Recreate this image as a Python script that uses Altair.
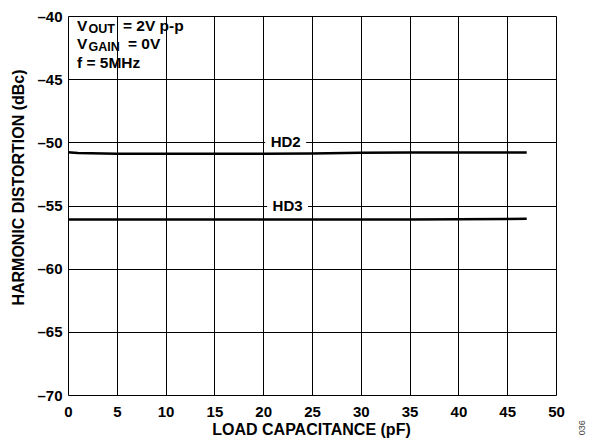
import altair as alt
import pandas as pd

# Load capacitance (pF)
cap = [0, 1, 5, 10, 15, 20, 25, 30, 35, 40, 45, 47]
# HD2 / HD3 (dBc)
hd2 = [-50.78, -50.84, -50.9, -50.9, -50.9, -50.9, -50.88, -50.82, -50.8, -50.8, -50.8, -50.8]
hd3 = [-56.1, -56.1, -56.1, -56.1, -56.1, -56.1, -56.1, -56.1, -56.1, -56.09, -56.06, -56.05]

x_ticks = list(range(0, 55, 5))
y_ticks = list(range(-70, -35, 5))

series_labels = ["HD2", "HD3"]
label_x = [22.3, 22.5]
label_y = [-50.0, -55.0]
label_x0 = [20.2, 20.4]
label_x1 = [24.4, 24.6]

FONT = "Liberation Sans"

rows = []
for c, a, b in zip(cap, hd2, hd3):
    rows.append({"cap": c, "val": a, "series": "HD2"})
    rows.append({"cap": c, "val": b, "series": "HD3"})
df = pd.DataFrame(rows)

lab = pd.DataFrame({
    "text": series_labels, "x": label_x, "y": label_y,
    "x0": label_x0, "x1": label_x1,
    "y0": [v - 0.55 for v in label_y], "y1": [v + 0.55 for v in label_y],
})

xs = alt.Scale(domain=[0, 50], nice=False)
ys = alt.Scale(domain=[-70, -40], nice=False)

minus_expr = "datum.value < 0 ? '\u2013' + abs(datum.value) : datum.label"

base = alt.Chart(df).encode(
    x=alt.X("cap:Q", scale=xs,
            axis=alt.Axis(values=x_ticks, title="LOAD CAPACITANCE (pF)", grid=True,
                          gridColor="black", gridWidth=1, gridOpacity=1,
                          ticks=False, domain=False, labelPadding=21,
                          labelBaseline="alphabetic", labelFont=FONT, labelFontSize=15,
                          labelFontWeight="bold", labelColor="black",
                          titleFont=FONT, titleFontSize=16, titleFontWeight="bold",
                          titleColor="black", titleX=243, titleY=39,
                          titleBaseline="alphabetic", labelFlush=False)),
    y=alt.Y("val:Q", scale=ys,
            axis=alt.Axis(values=y_ticks, title="HARMONIC DISTORTION (dBc)", grid=True,
                          gridColor="black", gridWidth=1, gridOpacity=1,
                          ticks=False, domain=False, labelPadding=6,
                          labelExpr=minus_expr, labelFont=FONT, labelFontSize=15,
                          labelFontWeight="bold", labelColor="black",
                          titleFont=FONT, titleFontSize=16, titleFontWeight="bold",
                          titleColor="black", titleAngle=270, titleX=-50, titleY=171,
                          titleBaseline="middle", titleAlign="center", labelFlush=False)),
)

lines = base.mark_line(color="black", strokeWidth=2.5).encode(detail="series:N")

bg = alt.Chart(lab).mark_rect(color="white").encode(
    x=alt.X("x0:Q", scale=xs), x2="x1:Q",
    y=alt.Y("y0:Q", scale=ys), y2="y1:Q")

labels = alt.Chart(lab).mark_text(font=FONT, fontSize=15, fontWeight="bold",
                                  color="black", baseline="middle").encode(
    x=alt.X("x:Q", scale=xs), y=alt.Y("y:Q", scale=ys), text="text:N")

# Annotation block (top-left)
ann_parts = ["V", "OUT", "= 2V p-p", "V", "GAIN", "= 0V", "f = 5MHz", "036"]
ann_x = [0.92, 0.92, 0.92, 0.92, 0.92, 0.92, 0.92, 52.7]
ann_y = [-41.15, -41.15, -41.15, -42.6, -42.6, -42.6, -44.15, -72.6]
ann_dx = [0, 11.5, 46, 0, 11.5, 51, 0, 0]
ann_dy = [0, 2.5, 0, 0, 2.5, 0, 0, 0]
ann_size = [15.5, 12.5, 15.5, 15.5, 12.5, 15.5, 15.5, 9]

ann = pd.DataFrame({"t": ann_parts, "x": ann_x, "y": ann_y, "dx": ann_dx,
                    "dy": ann_dy, "s": ann_size})

ann_layers = []
for i in range(len(ann)):
    r = ann.iloc[[i]]
    is_code = r["t"].iloc[0] == "036"
    ann_layers.append(
        alt.Chart(r).mark_text(
            font=FONT, fontSize=float(r["s"].iloc[0]),
            fontWeight="normal" if is_code else "bold",
            color="#444444" if is_code else "black",
            align="center" if is_code else "left",
            baseline="middle" if is_code else "alphabetic",
            angle=270 if is_code else 0,
            dx=float(r["dx"].iloc[0]), dy=float(r["dy"].iloc[0]),
        ).encode(x=alt.X("x:Q", scale=xs), y=alt.Y("y:Q", scale=ys), text="t:N")
    )

chart = alt.layer(lines, bg, labels, *ann_layers).properties(
    width=488, height=379,
    autosize=alt.AutoSizeParams(type="none"),
    padding={"left": 60, "top": 8, "right": 32, "bottom": 43},
).configure_view(stroke="black", strokeWidth=2).configure(background="white")

chart.save("out.html", embed_options={"renderer": "svg", "actions": False})
